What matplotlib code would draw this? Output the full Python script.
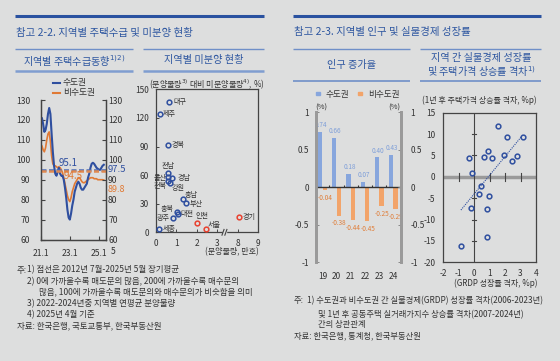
import numpy as np
import matplotlib
matplotlib.use('Agg')
import matplotlib.pyplot as plt

plt.rcParams['font.family'] = ['Noto Sans CJK KR', 'DejaVu Sans']
plt.rcParams['axes.unicode_minus'] = False
plt.rcParams['mathtext.fontset'] = 'dejavusans'

# ---------------- data ----------------
# 지역별 주택수급동향 (월별, 21.1 ~ 25.5)
supply_months = np.arange(53)
supply_capital = [119, 121, 118, 114, 115, 118, 123, 126, 123, 113, 104, 97,
                  93, 92, 94, 96, 93, 92, 92, 90, 86, 81, 75, 71,
                  70, 73, 77, 80, 84, 86, 88, 89, 88, 86, 85, 85,
                  86, 87, 88, 91, 93, 96, 98, 98.5, 98, 97, 96, 95.5,
                  95, 95, 96, 97, 97.5]
supply_noncap = [107.5, 107, 105, 104, 106, 110, 113, 114, 109, 102, 98, 97,
                 97, 96.5, 96, 96.5, 96, 95, 93.5, 91, 88, 85, 82, 80,
                 79, 81, 84, 86, 88, 89, 90, 91, 91, 90, 89, 88.5,
                 88.5, 89, 89.5, 90, 90.5, 91, 91, 91, 90.5, 90.5, 90.5, 90,
                 90, 90, 90, 90, 89.8]
avg_capital = 95.1
avg_noncap = 94.5
supply_ticks = [0, 24, 48]
supply_ticklabels = ['21.1', '23.1', '25.1']

# 지역별 미분양 현황
regions = ['대구', '제주', '경북', '전남', '울산', '경남', '전북', '강원', '충남',
           '부산', '충북', '대전', '광주', '세종', '인천', '서울', '경기']
presale = [0.65, 0.2, 0.62, 0.59, 0.59, 0.81, 0.59, 0.72, 1.35,
           1.5, 1.04, 1.09, 0.85, 0.15, 2.03, 2.46, 8.07]
unsold_ratio = [136.4, 124.1, 91.6, 62.6, 57.7, 56.6, 54.2, 51.7, 35.0,
                30.8, 21.0, 19.2, 15.4, 3.5, 10.1, 3.8, 16.4]
capital_regions = ['인천', '서울', '경기']

# 인구 증가율
years = ['19', '20', '21', '22', '23', '24']
pop_capital = [0.74, 0.66, 0.18, 0.07, 0.40, 0.43]
pop_noncap = [-0.04, -0.38, -0.44, -0.45, -0.25, -0.29]

# GRDP 성장률 격차 vs 1년 후 주택가격 상승률 격차
grdp_gap = [1.52, 2.12, 3.14, 0.91, -0.34, 0.63, 1.17, 1.93, 2.77,
            2.45, -0.15, 0.46, 0.33, 0.97, -0.21, 0.82, 0.82, -0.86]
price_gap = [11.9, 9.3, 9.3, 6.0, 4.5, 4.6, 4.35, 5.0, 4.9,
             3.7, 0.8, -2.2, -3.95, -4.4, -7.2, -7.5, -14.0, -16.1]

# ---------------- style ----------------
W, H = 560, 361
BG = '#dddede'
TITLE = '#2d56a0'
LINE_BLUE = '#2f4f9f'
LINE_ORANGE = '#e07a35'
BAR_BLUE = '#87a6dd'
BAR_ORANGE = '#f2a46a'
RED = '#e8402e'
TXT = '#333333'

fig = plt.figure(figsize=(W / 100, H / 100), dpi=100, facecolor=BG)
bg = fig.add_axes([0, 0, 1, 1])
bg.set_xlim(0, W)
bg.set_ylim(H, 0)
bg.axis('off')


def axes_px(x0, y0, x1, y1):
    ax = fig.add_axes([x0 / W, 1 - y1 / H, (x1 - x0) / W, (y1 - y0) / H])
    ax.set_facecolor('none')
    return ax


# headers
for x0, x1 in [(15, 264), (293, 541)]:
    bg.plot([x0, x1], [15.5, 15.5], color='#2a52a0', lw=2.2, solid_capstyle='butt')
for x0, x1 in [(15, 133), (143, 264), (293, 410), (420, 541)]:
    bg.plot([x0, x1], [49.3, 49.3], color='#6f8fc8', lw=1.0, solid_capstyle='butt')
for x0, x1 in [(15, 133), (143, 264)]:
    bg.plot([x0, x1], [70.7, 70.7], color='#7f9dd0', lw=1.8, solid_capstyle='butt')
for x0, x1 in [(293, 410), (420, 541)]:
    bg.plot([x0, x1], [81, 81], color='#6f8fc8', lw=1.2, solid_capstyle='butt')

bg.text(15.5, 32.5, '참고 2-2. 지역별 주택수급 및 미분양 현황', color=TITLE, fontsize=7.5, va='center')
bg.text(293.5, 32.5, '참고 2-3. 지역별 인구 및 실물경제 성장률', color=TITLE, fontsize=7.5, va='center')
bg.text(74, 60.3, '지역별 주택수급동향$^{1)2)}$', color=TITLE, fontsize=7.3, va='center', ha='center')
bg.text(204, 60.3, '지역별 미분양 현황', color=TITLE, fontsize=7.3, va='center', ha='center')
bg.text(352, 65, '인구 증가율', color=TITLE, fontsize=7.3, va='center', ha='center')
bg.text(481, 58.5, '지역 간 실물경제 성장률', color=TITLE, fontsize=7.3, va='center', ha='center')
bg.text(481, 72, '및 주택가격 상승률 격차$^{1)}$', color=TITLE, fontsize=7.3, va='center', ha='center')

# ---------------- panel 1: 주택수급동향 ----------------
ax1 = axes_px(40.7, 100, 106, 239.5)
ax1.plot(supply_months, supply_noncap, color=LINE_ORANGE, lw=1.2, zorder=3)
ax1.plot(supply_months, supply_capital, color=LINE_BLUE, lw=1.5, zorder=4)
ax1.axhline(avg_capital, color='#4a6ab5', lw=1.8, ls=(0, (2, 1)), zorder=5)
ax1.axhline(avg_noncap, color='#e08a50', lw=1.8, ls=(0, (2, 1)), zorder=5)
ax1.set_xlim(0, 53.8)
ax1.set_ylim(60, 130)
ax1.set_yticks(range(60, 131, 10))
ax1.set_xticks(supply_ticks)
ax1.set_xticklabels(supply_ticklabels)
ax1.tick_params(axis='both', direction='in', length=3, width=0.8, colors='#444', labelcolor=TXT, labelsize=6.2)
ax1.tick_params(axis='y', pad=7.5)
ax1.tick_params(axis='x', pad=7)
ax1r = ax1.twinx()
ax1r.set_ylim(60, 130)
ax1r.set_yticks(range(60, 131, 10))
ax1r.tick_params(axis='y', direction='in', length=3, width=0.8, colors='#444', labelcolor=TXT,
                 labelsize=6.2, pad=1.5)
for a in (ax1, ax1r):
    for s in ['left', 'right', 'bottom']:
        a.spines[s].set_color('#444')
        a.spines[s].set_linewidth(0.9)
    a.spines['top'].set_visible(False)
ax1.text(22.3, 98.3, f'{avg_capital}', color=LINE_BLUE, fontsize=7, ha='center', va='center', zorder=6)
ax1.text(26.5, 91.7, f'{avg_noncap}', color=LINE_ORANGE, fontsize=7, ha='center', va='center', zorder=6)
bg.text(108, 169, f'{supply_capital[-1]}', color=LINE_BLUE, fontsize=6.8, va='center')
bg.text(108, 189, f'{supply_noncap[-1]}', color=LINE_ORANGE, fontsize=6.5, va='center')
bg.text(113, 252, '5', color=TXT, fontsize=6.2, ha='center', va='center')
# legend
bg.plot([53, 60], [83, 83], color=LINE_BLUE, lw=1.5)
bg.plot([53, 60], [93, 93], color=LINE_ORANGE, lw=1.5)
bg.text(63, 83, '수도권', color=TXT, fontsize=6.3, va='center')
bg.text(63, 93, '비수도권', color=TXT, fontsize=6.3, va='center')

# ---------------- panel 2: 미분양 ----------------
ax2 = axes_px(155.7, 89.3, 258.3, 232.3)


def break_x(v):
    return v if v < 5 else v - 4


label_offsets = {
    '대구': (4.3, 0, 'left'), '제주': (2.7, 0, 'left'), '경북': (2.7, 0, 'left'),
    '전남': (0, -6.7, 'center'), '울산': (-1.5, 0.3, 'right'), '경남': (5, 0, 'left'),
    '전북': (-1, 5.3, 'right'), '강원': (1.3, 5, 'left'), '충남': (1.7, -4, 'left'),
    '부산': (3, 1, 'left'), '충북': (-3, -3.3, 'right'), '대전': (2, 0, 'left'),
    '광주': (-3, 0, 'right'), '세종': (3.7, 0, 'left'), '인천': (4.7, -6.7, 'center'),
    '서울': (1.3, -4, 'left'), '경기': (3.7, 0, 'left'),
}
for name, px, py in zip(regions, presale, unsold_ratio):
    c = RED if name in capital_regions else LINE_BLUE
    ax2.plot(break_x(px), py, 'o', ms=3.4, mfc='none', mec=c, mew=1.1, zorder=4)
    dx, dy, ha = label_offsets[name]
    ax2.annotate(name, (break_x(px), py), xytext=(dx * 0.72, -dy * 0.72), textcoords='offset points',
                 ha=ha, va='center', fontsize=5.1, color=TXT)
ax2.set_xlim(0, 5)
ax2.set_ylim(0, 150)
ax2.set_yticks(range(0, 151, 30))
ax2.set_xticks([0, 1, 2, 3, 4, 5])
ax2.set_xticklabels(['0', '1', '2', '3', '8', '9'])
ax2.tick_params(axis='both', direction='in', length=2.5, width=0.7, colors='#444', labelcolor=TXT, labelsize=6)
ax2.tick_params(axis='y', pad=4.8)
ax2.tick_params(axis='x', pad=5)
for s in ax2.spines.values():
    s.set_color('#444')
    s.set_linewidth(0.9)
# axis break marks
for bx in [3.28, 3.42]:
    ax2.plot([bx - 0.05, bx + 0.05], [-3, 3], color='#444', lw=0.8, clip_on=False, zorder=6)
ax2.add_patch(plt.Rectangle((3.29, -1.2), 0.12, 2.4, color=BG, clip_on=False, zorder=5))
bg.text(149, 84, '(분양물량$^{3)}$ 대비 미분양물량$^{4)}$, %)', color=TXT, fontsize=5.8, va='center')
bg.text(258.5, 252, '(분양물량, 만호)', color=TXT, fontsize=5.8, va='center', ha='right')

# ---------------- panel 3: 인구 증가율 ----------------
ax3 = axes_px(315.7, 112.3, 401, 262)
xi = np.arange(len(years))
ax3.bar(xi - 0.16, pop_capital, width=0.3, color=BAR_BLUE, zorder=3)
ax3.bar(xi + 0.16, pop_noncap, width=0.3, color=BAR_ORANGE, zorder=3)
for i in xi:
    ax3.text(i - 0.08, pop_capital[i] + 0.035, f'{pop_capital[i]:.2f}', color='#7f9fd8',
             fontsize=4.6, ha='center', va='bottom')
    ax3.text(i + 0.2, pop_noncap[i] - 0.05, f'{pop_noncap[i]:.2f}', color='#e07d38',
             fontsize=4.6, ha='center', va='top')
ax3.axhline(0, color='#333', lw=1.0, zorder=4)
ax3.vlines(xi[:-1] + 0.5, 0, 0.03, color='#333', lw=0.8, zorder=4)
ax3.set_xlim(-0.47, 5.54)
ax3.set_ylim(-1, 1)
yt3 = [-1, -0.5, 0, 0.5, 1]
yl3 = ['-1', '-0.5', '0', '0.5', '1']
ax3.set_yticks(yt3)
ax3.set_yticklabels(yl3)
ax3.set_xticks(xi)
ax3.set_xticklabels(years)
ax3.tick_params(axis='x', length=0, labelsize=6, labelcolor=TXT, pad=7)
ax3.tick_params(axis='y', direction='in', length=2.5, width=0.7, colors='#888', labelcolor=TXT,
                labelsize=6, pad=5)
ax3r = ax3.twinx()
ax3r.set_ylim(-1, 1)
ax3r.set_yticks(yt3)
ax3r.set_yticklabels(yl3)
ax3r.tick_params(axis='y', direction='in', length=2.5, width=0.7, colors='#888', labelcolor=TXT,
                 labelsize=6, pad=7)
for a in (ax3, ax3r):
    for s in ['top', 'bottom']:
        a.spines[s].set_visible(False)
    for s in ['left', 'right']:
        a.spines[s].set_color('#9a9a9a')
        a.spines[s].set_linewidth(2)
bg.text(321.7, 107.5, '(%)', color=TXT, fontsize=5.5, ha='center', va='center')
bg.text(394.3, 107.5, '(%)', color=TXT, fontsize=5.5, ha='center', va='center')
bg.add_patch(plt.Rectangle((316.3, 91.8), 3.6, 3.6, color=BAR_BLUE))
bg.text(325.5, 94, '수도권', color=TXT, fontsize=6.2, va='center')
bg.add_patch(plt.Rectangle((358.3, 91.8), 3.6, 3.6, color=BAR_ORANGE))
bg.text(368.3, 94, '비수도권', color=TXT, fontsize=6.2, va='center')

# ---------------- panel 4: GRDP vs 주택가격 ----------------
ax4 = axes_px(443.3, 112.7, 536, 262.3)
ax4.axhline(0, color='#9a9a9a', lw=2.5, zorder=1)
ax4.axvline(0, color='#444', lw=0.8, zorder=1)
xt = [-2, -1, 0, 1, 2, 3, 4]
for v in xt[1:-1]:
    if v != 0:
        ax4.plot([v, v], [-1.0, 1.0], color='#444', lw=0.8, zorder=2)
for v in [-15, -10, -5, 5, 10]:
    ax4.plot([-0.12, 0.12], [v, v], color='#444', lw=0.8, zorder=2)
ax4.plot(grdp_gap, price_gap, 'o', ms=3.4, mfc='none', mec=LINE_BLUE, mew=1.1, zorder=4)
slope, icpt = np.polyfit(grdp_gap, price_gap, 1)
fx = np.array([min(grdp_gap), max(grdp_gap) - 0.1])
ax4.plot(fx, slope * fx + icpt, color=LINE_BLUE, lw=0.8, ls=(0, (1, 1)), zorder=3)
ax4.set_xlim(-2, 4)
ax4.set_ylim(-20, 15)
ax4.set_xticks(xt)
ax4.set_yticks(range(-20, 16, 5))
ax4.tick_params(axis='both', length=0, labelsize=6, labelcolor=TXT)
ax4.tick_params(axis='y', pad=5.8)
ax4.tick_params(axis='x', pad=5)
for s in ax4.spines.values():
    s.set_color('#444')
    s.set_linewidth(0.9)
bg.text(421.7, 100.7, '(1년 후 주택가격 상승률 격차, %p)', color=TXT, fontsize=5.8, va='center')
bg.text(538, 283.3, '(GRDP 성장률 격차, %p)', color=TXT, fontsize=5.8, va='center', ha='right')

# ---------------- footnotes ----------------
bg.text(16.7, 270, '주:', color=TXT, fontsize=6.1, va='center')
left_notes = [(27, 270, '1) 점선은 2012년 7월-2025년 5월 장기평균'),
              (27, 281.7, '2) 0에 가까울수록 매도문의 많음, 200에 가까울수록 매수문의'),
              (39.3, 292.3, '많음, 100에 가까울수록 매도문의와 매수문의가 비슷함을 의미'),
              (27, 303.3, '3) 2022-2024년중 지역별 연평균 분양물량'),
              (27, 314.3, '4) 2025년 4월 기준'),
              (16.7, 325.7, '자료: 한국은행, 국토교통부, 한국부동산원')]
for x, y, t in left_notes:
    bg.text(x, y, t, color=TXT, fontsize=6.1, va='center')
bg.text(294, 300.7, '주:', color=TXT, fontsize=5.95, va='center')
right_notes = [(307.3, 300.7, '1) 수도권과 비수도권 간 실물경제(GRDP) 성장률 격차(2006-2023년)'),
               (318.3, 314.3, '및 1년 후 공동주택 실거래가지수 상승률 격차(2007-2024년)'),
               (318.3, 325, '간의 상관관계'),
               (294, 335.7, '자료: 한국은행, 통계청, 한국부동산원')]
for x, y, t in right_notes:
    bg.text(x, y, t, color=TXT, fontsize=5.95, va='center')

fig.savefig('out.png', dpi=100, facecolor=BG)
